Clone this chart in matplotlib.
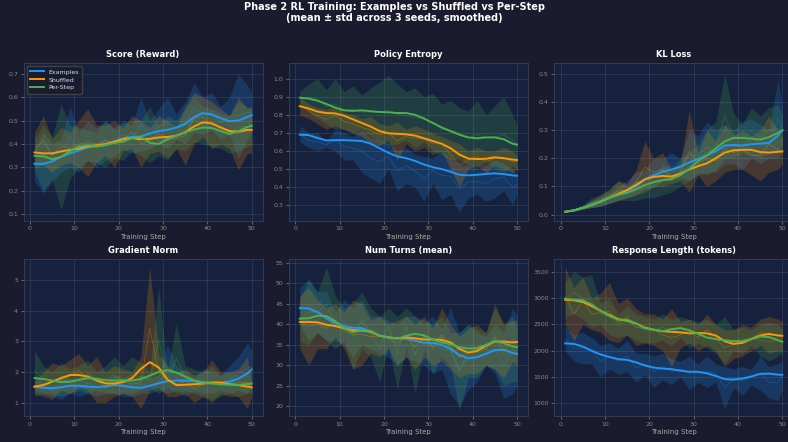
import numpy as np
import matplotlib
matplotlib.use('Agg')
from matplotlib import pyplot as plt

# training steps where values were read (odd steps + last)
steps = [1, 3, 5, 7, 9, 11, 13, 15, 17, 19, 21, 23, 25, 27, 29, 31, 33, 35, 37, 39, 41, 43, 45, 47, 49, 50]
runs = ['Examples', 'Shuffled', 'Per-Step']
colors = {'Examples': '#2196F3', 'Shuffled': '#FF9800', 'Per-Step': '#4CAF50'}

# ---- Score (Reward)
score_smooth = {
    'Examples': [0.316, 0.315, 0.326, 0.345, 0.36, 0.372, 0.385, 0.39, 0.395, 0.41, 0.425, 0.43, 0.432, 0.445, 0.455, 0.46, 0.47, 0.485, 0.515, 0.532, 0.525, 0.51, 0.497, 0.5, 0.515, 0.523],
    'Shuffled': [0.364, 0.36, 0.36, 0.368, 0.375, 0.38, 0.39, 0.395, 0.4, 0.41, 0.42, 0.425, 0.42, 0.422, 0.428, 0.43, 0.435, 0.45, 0.475, 0.492, 0.488, 0.47, 0.455, 0.453, 0.46, 0.46],
    'Per-Step': [0.35, 0.348, 0.335, 0.345, 0.37, 0.39, 0.395, 0.39, 0.395, 0.405, 0.41, 0.425, 0.43, 0.405, 0.4, 0.42, 0.435, 0.45, 0.462, 0.47, 0.468, 0.455, 0.443, 0.455, 0.472, 0.478],
}
score_lo = {
    'Examples': [0.24, 0.19, 0.24, 0.28, 0.3, 0.28, 0.33, 0.3, 0.33, 0.35, 0.38, 0.36, 0.37, 0.38, 0.4, 0.38, 0.42, 0.4, 0.45, 0.44, 0.46, 0.42, 0.44, 0.34, 0.42, 0.45],
    'Shuffled': [0.3, 0.31, 0.28, 0.31, 0.32, 0.3, 0.26, 0.32, 0.35, 0.3, 0.37, 0.38, 0.3, 0.36, 0.37, 0.34, 0.38, 0.31, 0.4, 0.43, 0.38, 0.4, 0.38, 0.29, 0.36, 0.36],
    'Per-Step': [0.28, 0.2, 0.25, 0.12, 0.25, 0.3, 0.33, 0.32, 0.3, 0.34, 0.33, 0.37, 0.35, 0.32, 0.35, 0.33, 0.38, 0.37, 0.41, 0.4, 0.39, 0.38, 0.36, 0.37, 0.39, 0.4],
}
score_hi = {
    'Examples': [0.38, 0.45, 0.4, 0.42, 0.56, 0.45, 0.5, 0.47, 0.5, 0.47, 0.5, 0.48, 0.6, 0.5, 0.55, 0.6, 0.53, 0.58, 0.66, 0.6, 0.62, 0.56, 0.6, 0.7, 0.65, 0.62],
    'Shuffled': [0.45, 0.52, 0.42, 0.47, 0.45, 0.5, 0.55, 0.48, 0.48, 0.5, 0.47, 0.52, 0.5, 0.47, 0.52, 0.5, 0.47, 0.56, 0.62, 0.6, 0.58, 0.55, 0.52, 0.6, 0.55, 0.56],
    'Per-Step': [0.42, 0.48, 0.43, 0.57, 0.48, 0.47, 0.46, 0.45, 0.5, 0.46, 0.49, 0.5, 0.5, 0.56, 0.48, 0.52, 0.5, 0.55, 0.6, 0.56, 0.55, 0.53, 0.52, 0.58, 0.56, 0.55],
}

# ---- Policy Entropy
entropy_smooth = {
    'Examples': [0.69, 0.688, 0.672, 0.658, 0.66, 0.66, 0.658, 0.655, 0.64, 0.615, 0.59, 0.57, 0.56, 0.545, 0.525, 0.51, 0.5, 0.485, 0.468, 0.465, 0.468, 0.473, 0.476, 0.472, 0.465, 0.463],
    'Shuffled': [0.848, 0.835, 0.818, 0.81, 0.808, 0.795, 0.775, 0.755, 0.735, 0.71, 0.698, 0.695, 0.692, 0.685, 0.67, 0.655, 0.64, 0.615, 0.58, 0.558, 0.555, 0.557, 0.565, 0.56, 0.552, 0.55],
    'Per-Step': [0.895, 0.89, 0.878, 0.86, 0.84, 0.825, 0.822, 0.825, 0.82, 0.816, 0.814, 0.81, 0.81, 0.8, 0.78, 0.755, 0.73, 0.71, 0.69, 0.675, 0.67, 0.675, 0.675, 0.665, 0.64, 0.635],
}
entropy_lo = {
    'Examples': [0.65, 0.62, 0.6, 0.62, 0.6, 0.55, 0.55, 0.48, 0.45, 0.42, 0.5, 0.38, 0.42, 0.4, 0.32, 0.42, 0.33, 0.36, 0.26, 0.34, 0.36, 0.32, 0.34, 0.38, 0.3, 0.36],
    'Shuffled': [0.8, 0.78, 0.75, 0.72, 0.74, 0.72, 0.7, 0.68, 0.64, 0.63, 0.66, 0.55, 0.64, 0.6, 0.62, 0.58, 0.6, 0.5, 0.4, 0.5, 0.52, 0.48, 0.52, 0.5, 0.48, 0.5],
    'Per-Step': [0.86, 0.82, 0.78, 0.75, 0.72, 0.72, 0.7, 0.72, 0.68, 0.65, 0.63, 0.64, 0.66, 0.62, 0.65, 0.6, 0.58, 0.55, 0.56, 0.52, 0.5, 0.55, 0.5, 0.48, 0.52, 0.5],
}
entropy_hi = {
    'Examples': [0.74, 0.7, 0.7, 0.65, 0.72, 0.7, 0.68, 0.72, 0.67, 0.66, 0.64, 0.6, 0.62, 0.58, 0.57, 0.56, 0.6, 0.56, 0.52, 0.52, 0.5, 0.52, 0.55, 0.53, 0.5, 0.47],
    'Shuffled': [0.9, 0.86, 0.84, 0.83, 0.85, 0.81, 0.8, 0.78, 0.79, 0.75, 0.74, 0.76, 0.72, 0.74, 0.72, 0.7, 0.68, 0.66, 0.64, 0.6, 0.62, 0.6, 0.6, 0.62, 0.6, 0.58],
    'Per-Step': [0.93, 0.97, 1.0, 0.94, 1.0, 0.93, 0.96, 0.91, 0.95, 0.98, 1.02, 0.97, 0.93, 0.95, 0.9, 0.92, 0.86, 0.88, 0.84, 0.82, 0.88, 0.8, 0.85, 0.9, 0.8, 0.75],
}

# ---- KL Loss
kl_smooth = {
    'Examples': [0.01, 0.015, 0.024, 0.034, 0.046, 0.058, 0.07, 0.085, 0.1, 0.125, 0.14, 0.152, 0.16, 0.17, 0.185, 0.198, 0.21, 0.225, 0.245, 0.247, 0.245, 0.25, 0.252, 0.255, 0.28, 0.3],
    'Shuffled': [0.01, 0.015, 0.024, 0.034, 0.046, 0.06, 0.074, 0.087, 0.105, 0.125, 0.134, 0.137, 0.135, 0.145, 0.16, 0.172, 0.182, 0.2, 0.22, 0.228, 0.23, 0.23, 0.222, 0.22, 0.223, 0.224],
    'Per-Step': [0.01, 0.015, 0.024, 0.034, 0.046, 0.06, 0.07, 0.078, 0.09, 0.105, 0.115, 0.122, 0.127, 0.14, 0.162, 0.19, 0.21, 0.235, 0.26, 0.272, 0.272, 0.27, 0.266, 0.275, 0.29, 0.298],
}
kl_lo = {
    'Examples': [0.008, 0.012, 0.02, 0.025, 0.03, 0.04, 0.05, 0.06, 0.07, 0.09, 0.1, 0.12, 0.12, 0.13, 0.12, 0.14, 0.15, 0.15, 0.18, 0.18, 0.16, 0.2, 0.18, 0.2, 0.2, 0.22],
    'Shuffled': [0.008, 0.012, 0.02, 0.025, 0.03, 0.04, 0.05, 0.06, 0.07, 0.08, 0.1, 0.1, 0.11, 0.12, 0.08, 0.14, 0.1, 0.12, 0.15, 0.16, 0.16, 0.14, 0.12, 0.15, 0.16, 0.18],
    'Per-Step': [0.008, 0.012, 0.018, 0.025, 0.03, 0.04, 0.05, 0.05, 0.05, 0.06, 0.06, 0.07, 0.08, 0.1, 0.12, 0.15, 0.14, 0.16, 0.2, 0.2, 0.22, 0.21, 0.2, 0.22, 0.22, 0.25],
}
kl_hi = {
    'Examples': [0.012, 0.02, 0.03, 0.05, 0.06, 0.08, 0.1, 0.12, 0.15, 0.16, 0.2, 0.2, 0.22, 0.2, 0.3, 0.28, 0.33, 0.3, 0.32, 0.3, 0.33, 0.34, 0.32, 0.3, 0.48, 0.38],
    'Shuffled': [0.012, 0.02, 0.03, 0.05, 0.07, 0.09, 0.12, 0.11, 0.16, 0.26, 0.2, 0.22, 0.16, 0.18, 0.37, 0.22, 0.3, 0.26, 0.32, 0.28, 0.3, 0.28, 0.3, 0.35, 0.3, 0.27],
    'Per-Step': [0.012, 0.02, 0.035, 0.06, 0.07, 0.09, 0.12, 0.1, 0.12, 0.13, 0.13, 0.18, 0.16, 0.2, 0.22, 0.25, 0.3, 0.33, 0.5, 0.36, 0.32, 0.38, 0.35, 0.38, 0.39, 0.35],
}

# ---- Gradient Norm
grad_smooth = {
    'Examples': [1.52, 1.48, 1.47, 1.5, 1.55, 1.55, 1.52, 1.5, 1.53, 1.57, 1.55, 1.5, 1.48, 1.55, 1.63, 1.7, 1.72, 1.72, 1.7, 1.67, 1.65, 1.66, 1.68, 1.78, 1.95, 2.08],
    'Shuffled': [1.52, 1.57, 1.68, 1.8, 1.9, 1.9, 1.85, 1.72, 1.63, 1.62, 1.67, 1.8, 2.1, 2.32, 2.15, 1.75, 1.57, 1.58, 1.6, 1.62, 1.65, 1.65, 1.6, 1.57, 1.52, 1.5],
    'Per-Step': [1.8, 1.77, 1.72, 1.67, 1.68, 1.74, 1.8, 1.78, 1.73, 1.72, 1.72, 1.72, 1.77, 1.88, 2.0, 2.06, 1.98, 1.85, 1.72, 1.65, 1.62, 1.6, 1.58, 1.58, 1.6, 1.62],
}
grad_lo = {
    'Examples': [1.2, 1.3, 1.2, 1.1, 1.3, 1.2, 1.3, 1.2, 1.3, 1.3, 1.2, 1.2, 1.3, 1.3, 1.4, 1.3, 1.4, 1.2, 1.4, 1.3, 1.3, 1.4, 1.3, 1.4, 1.3, 1.6],
    'Shuffled': [1.3, 1.2, 1.1, 1.4, 1.3, 1.5, 1.4, 1.0, 1.0, 1.2, 1.3, 1.2, 0.8, 1.4, 1.5, 1.2, 1.2, 1.3, 1.0, 1.2, 1.0, 1.3, 1.2, 1.2, 0.8, 1.2],
    'Per-Step': [1.4, 1.3, 1.3, 1.2, 1.3, 1.4, 1.3, 1.4, 1.3, 1.3, 1.3, 1.3, 1.4, 1.5, 1.3, 1.5, 1.3, 1.4, 1.3, 1.2, 1.1, 1.2, 1.3, 1.2, 1.3, 1.3],
}
grad_hi = {
    'Examples': [1.9, 1.7, 1.6, 1.9, 1.8, 1.7, 2.0, 1.8, 1.7, 1.9, 1.8, 1.7, 1.9, 1.8, 1.9, 2.9, 2.2, 2.0, 1.8, 2.1, 2.0, 1.9, 2.2, 2.5, 2.95, 2.7],
    'Shuffled': [1.7, 2.0, 2.3, 2.2, 2.4, 2.6, 2.2, 2.5, 2.0, 2.2, 2.1, 2.0, 2.5, 5.45, 2.6, 2.2, 2.0, 2.1, 1.9, 2.0, 2.4, 2.0, 2.0, 2.1, 2.5, 1.6],
    'Per-Step': [2.7, 2.2, 2.0, 2.3, 2.1, 2.2, 2.4, 2.0, 2.2, 2.5, 2.2, 2.5, 2.3, 2.0, 4.8, 2.0, 3.6, 2.2, 2.1, 2.0, 2.2, 1.9, 2.0, 1.9, 2.0, 2.0],
}

# ---- Num Turns (mean)
turns_smooth = {
    'Examples': [43.96, 43.9, 43.0, 41.5, 40.3, 39.5, 39.2, 39.1, 38.2, 37.3, 36.8, 36.6, 36.5, 36.0, 35.5, 35.5, 35.0, 34.0, 32.5, 31.7, 32.0, 32.8, 33.7, 33.8, 33.0, 32.8],
    'Shuffled': [40.6, 40.6, 40.5, 39.9, 39.6, 39.0, 38.6, 38.5, 38.2, 37.2, 36.8, 36.6, 36.8, 36.6, 36.3, 36.3, 36.2, 35.6, 34.0, 33.1, 33.5, 34.8, 35.8, 35.8, 35.6, 35.7],
    'Per-Step': [41.4, 41.5, 42.1, 42.0, 40.8, 39.0, 38.1, 38.5, 38.4, 37.2, 36.9, 36.5, 37.2, 37.7, 37.3, 36.3, 35.6, 35.2, 34.4, 34.1, 34.2, 35.0, 35.9, 35.4, 34.6, 34.4],
}
turns_lo = {
    'Examples': [40, 36, 38, 36, 36, 35, 32, 35, 34, 33, 32, 30, 32, 31, 30, 28, 29, 23, 20, 24, 26, 30, 28, 22, 23, 25],
    'Shuffled': [34, 30, 34, 34, 37, 34, 29, 30, 33, 32, 34, 30, 32, 29, 32, 30, 31, 29, 27, 28, 28, 30, 29, 27, 31, 30],
    'Per-Step': [36, 35, 38, 36, 34, 36, 29, 34, 32, 26, 35, 24, 35, 23, 34, 28, 32, 30, 19, 27, 27, 30, 29, 25, 26, 26],
}
turns_hi = {
    'Examples': [49, 51, 48, 48, 43, 46, 44, 46, 42, 42, 41, 40, 42, 42, 40, 42, 39, 44, 38, 40, 38, 37, 40, 38, 44, 42],
    'Shuffled': [47, 49, 46, 44, 45, 43, 46, 45, 41, 42, 40, 41, 42, 40, 42, 39, 44, 40, 37, 39, 40, 38, 45, 40, 41, 41],
    'Per-Step': [46, 51, 48, 54, 47, 44, 45, 48, 44, 42, 44, 42, 44, 42, 41, 40, 42, 38, 38, 40, 39, 38, 44, 40, 42, 39],
}

# ---- Response Length (tokens)
resp_smooth = {
    'Examples': [2140, 2130, 2080, 2000, 1930, 1880, 1840, 1825, 1780, 1720, 1680, 1660, 1650, 1620, 1600, 1600, 1570, 1520, 1460, 1450, 1470, 1510, 1560, 1565, 1545, 1540],
    'Shuffled': [2970, 2960, 2930, 2850, 2760, 2680, 2600, 2570, 2520, 2440, 2400, 2370, 2360, 2350, 2330, 2340, 2330, 2290, 2180, 2130, 2150, 2220, 2290, 2320, 2290, 2285],
    'Per-Step': [2990, 2970, 2960, 2880, 2760, 2660, 2590, 2590, 2520, 2430, 2400, 2370, 2410, 2430, 2390, 2320, 2250, 2220, 2200, 2180, 2180, 2220, 2270, 2260, 2200, 2170],
}
resp_lo = {
    'Examples': [2000, 1800, 1750, 1750, 1500, 1650, 1550, 1600, 1400, 1550, 1300, 1450, 1350, 1500, 1250, 1400, 1300, 1400, 900, 1300, 1150, 1350, 1250, 1100, 1050, 1250],
    'Shuffled': [2500, 2200, 2500, 2400, 2350, 2200, 2150, 2300, 2100, 2150, 2100, 2000, 1700, 2050, 2150, 2000, 2100, 2000, 1700, 1850, 1900, 2000, 2100, 1950, 2000, 2000],
    'Per-Step': [2650, 2700, 2600, 2450, 2500, 2300, 2250, 2300, 2200, 2150, 2150, 2200, 2100, 2250, 2050, 2150, 2050, 1950, 1750, 2000, 1950, 2100, 1900, 1800, 1900, 1950],
}
resp_hi = {
    'Examples': [2450, 2300, 2350, 2250, 2100, 2150, 2050, 2200, 1950, 1950, 1900, 1950, 1850, 1800, 1900, 1750, 1900, 1750, 1700, 1650, 1700, 1650, 1900, 1700, 1750, 1800],
    'Shuffled': [3600, 3200, 3400, 3000, 3100, 3300, 2900, 3000, 2800, 2700, 2700, 2600, 2800, 2550, 2600, 2500, 2700, 2500, 2400, 2400, 2500, 2450, 2600, 2650, 2600, 2550],
    'Per-Step': [3300, 3500, 3400, 3450, 2900, 3000, 2700, 2850, 2700, 2650, 2600, 2700, 2600, 2650, 2600, 2550, 2600, 2500, 2650, 2400, 2450, 2400, 2500, 2550, 2500, 2400],
}

panels = [
    ('Score (Reward)', score_smooth, score_lo, score_hi, (0.074, 0.745), [0.1, 0.2, 0.3, 0.4, 0.5, 0.6, 0.7]),
    ('Policy Entropy', entropy_smooth, entropy_lo, entropy_hi, (0.215, 1.087), [0.3, 0.4, 0.5, 0.6, 0.7, 0.8, 0.9, 1.0]),
    ('KL Loss', kl_smooth, kl_lo, kl_hi, (-0.021, 0.538), [0.0, 0.1, 0.2, 0.3, 0.4, 0.5]),
    ('Gradient Norm', grad_smooth, grad_lo, grad_hi, (0.56, 5.71), [1, 2, 3, 4, 5]),
    ('Num Turns (mean)', turns_smooth, turns_lo, turns_hi, (17.6, 56.1), [20, 25, 30, 35, 40, 45, 50, 55]),
    ('Response Length (tokens)', resp_smooth, resp_lo, resp_hi, (758, 3755), [1000, 1500, 2000, 2500, 3000, 3500]),
]

BG = '#1a1b2e'
AX_BG = '#16213e'
W, H = 788, 442

fig = plt.figure(figsize=(W / 100, H / 100), dpi=100, facecolor=BG)
col_left = [23.6, 288.9, 554.2]
row_top = [63, 258.5]
ax_w, ax_h = 239, 157.5

for i, (title, smooth, lo, hi, ylim, yticks) in enumerate(panels):
    r, c = divmod(i, 3)
    ax = fig.add_axes([col_left[c] / W, 1 - (row_top[r] + ax_h) / H, ax_w / W, ax_h / H])
    ax.set_facecolor(AX_BG)
    for run in runs:
        col = colors[run]
        ax.fill_between(steps, lo[run], hi[run], color=col, alpha=0.2, linewidth=0)
        mid = (np.array(lo[run]) + np.array(hi[run])) / 2
        ax.plot(steps, mid, color=col, alpha=0.35, linewidth=0.5)
        ax.plot(steps, smooth[run], color=col, linewidth=1.4, label=run)
    ax.set_xlim(-1.45, 52.45)
    ax.set_ylim(*ylim)
    ax.set_xticks([0, 10, 20, 30, 40, 50])
    ax.set_yticks(yticks)
    ax.set_title(title, color='white', fontsize=6, fontweight='bold', pad=4)
    ax.set_xlabel('Training Step', color='#aaaaaa', fontsize=5, labelpad=2)
    ax.tick_params(colors='#888888', labelsize=4.5, length=2, width=0.5, pad=2)
    ax.grid(True, color='white', alpha=0.1, linewidth=0.6)
    for sp in ax.spines.values():
        sp.set_color('#3a3f55')
        sp.set_linewidth(0.6)
    if i == 0:
        leg = ax.legend(loc='upper left', fontsize=4.5, facecolor=BG, edgecolor='#444444',
                        framealpha=0.9, handlelength=2.2, borderpad=0.5, labelspacing=0.4)
        for t in leg.get_texts():
            t.set_color('#dddddd')

fig.suptitle('Phase 2 RL Training: Examples vs Shuffled vs Per-Step\n(mean ± std across 3 seeds, smoothed)',
             color='white', fontsize=7, fontweight='bold', y=0.995, linespacing=1.1)

fig.savefig('out.png', dpi=100, facecolor=BG)
